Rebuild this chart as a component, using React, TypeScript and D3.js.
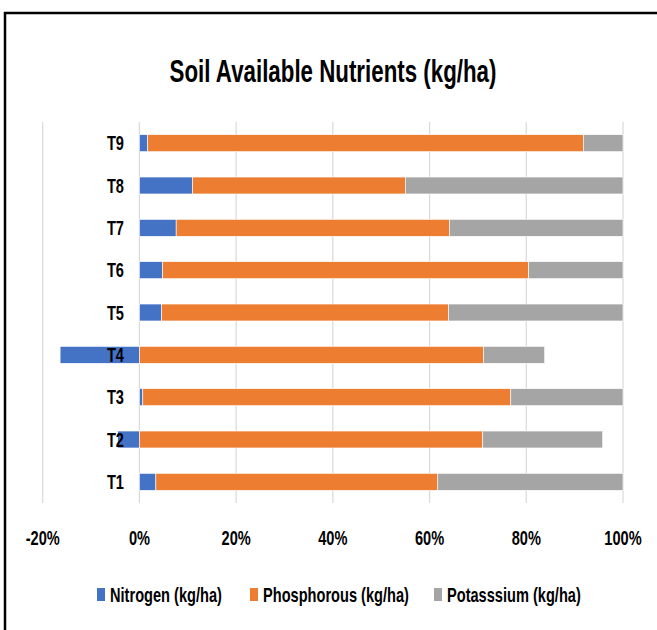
import React from "react";
import * as d3 from "d3";

const categories = ["T1", "T2", "T3", "T4", "T5", "T6", "T7", "T8", "T9"];
const nitrogen = [3.4, -4.5, 0.7, -16.4, 4.6, 4.8, 7.6, 11.0, 1.7];
const phosphorous = [58.3, 71.0, 76.1, 71.2, 59.3, 75.7, 56.5, 44.0, 90.1];
const potassium = [38.3, 24.8, 23.2, 12.6, 36.1, 19.5, 35.9, 45.0, 8.2];
const seriesNames = ["Nitrogen (kg/ha)", "Phosphorous (kg/ha)", "Potasssium (kg/ha)"];
const xTicks = [-20, 0, 20, 40, 60, 80, 100];

const colors = ["#4472C4", "#ED7D31", "#A5A5A5"];
const FONT = "'Liberation Sans', Arial, sans-serif";
const SX = 0.73;

function NText({
  x,
  y,
  anchor = "start",
  size,
  sx = SX,
  children,
}: {
  x: number;
  y: number;
  anchor?: string;
  size: number;
  sx?: number;
  children: React.ReactNode;
}) {
  return (
    <text
      transform={`translate(${x},${y}) scale(${sx},1)`}
      textAnchor={anchor}
      fontSize={size}
      fontWeight="bold"
      fill="#000"
    >
      {children}
    </text>
  );
}

export default function App() {
  const W = 657, H = 630;
  const x = d3.scaleLinear().domain([-20, 100]).range([42.7, 623]);
  const y = d3
    .scaleBand<string>()
    .domain([...categories].reverse())
    .range([122, 503])
    .paddingInner(0.6)
    .paddingOuter(0.3);

  const series = [nitrogen, phosphorous, potassium];
  const segs: { cat: string; s: number; x0: number; x1: number }[] = [];
  categories.forEach((c, i) => {
    let pos = 0, neg = 0;
    series.forEach((arr, s) => {
      const v = arr[i];
      if (v >= 0) {
        segs.push({ cat: c, s, x0: pos, x1: pos + v });
        pos += v;
      } else {
        segs.push({ cat: c, s, x0: neg + v, x1: neg });
        neg += v;
      }
    });
  });

  const legendItems = [
    { sq: 97, tx: 110 },
    { sq: 250, tx: 263 },
    { sq: 434, tx: 447 },
  ];

  return (
    <svg
      width={W}
      height={H}
      style={{ position: "absolute", left: 0, top: 0, background: "#fff" }}
      fontFamily={FONT}
    >
      <rect x={0} y={0} width={W} height={H} fill="#fff" />
      <path d={`M5,${H} V13 H${W}`} fill="none" stroke="#000" strokeWidth={2.5} />
      <NText x={333} y={82} anchor="middle" size={31} sx={0.72}>
        Soil Available Nutrients (kg/ha)
      </NText>
      {xTicks.map((t) => (
        <line
          key={"g" + t}
          x1={x(t)}
          x2={x(t)}
          y1={122}
          y2={503}
          stroke="#d9d9d9"
          strokeWidth={1.2}
        />
      ))}
      {segs.map((d, i) => (
        <rect
          key={i}
          x={x(d.x0)}
          y={y(d.cat)!}
          width={x(d.x1) - x(d.x0)}
          height={y.bandwidth()}
          fill={colors[d.s]}
          stroke="#fff"
          strokeWidth={0.6}
        />
      ))}
      {categories.map((c) => (
        <NText key={c} x={124} y={y(c)! + y.bandwidth() / 2 + 7.3} anchor="end" size={20}>
          {c}
        </NText>
      ))}
      {xTicks.map((t) => (
        <NText key={"t" + t} x={x(t)} y={545} anchor="middle" size={20}>
          {t + "%"}
        </NText>
      ))}
      {seriesNames.map((n, i) => (
        <g key={n}>
          <rect x={legendItems[i].sq} y={588} width={8} height={13} fill={colors[i]} />
          <NText x={legendItems[i].tx} y={602} size={20}>
            {n}
          </NText>
        </g>
      ))}
    </svg>
  );
}
